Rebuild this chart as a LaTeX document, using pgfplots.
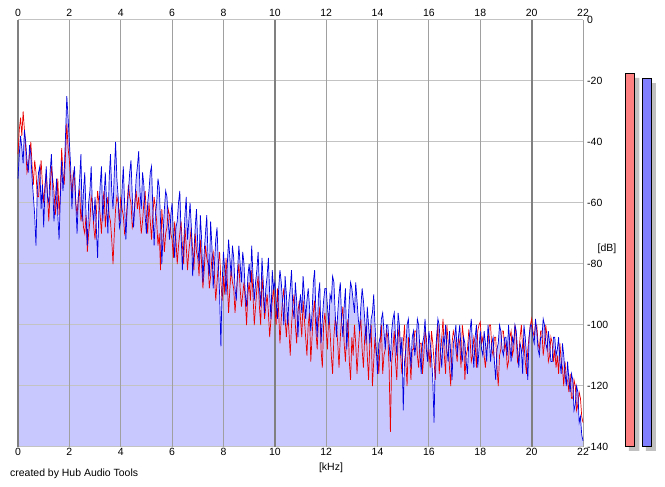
\documentclass[border=0pt]{standalone}
\usepackage{pgfplots}
\pgfplotsset{compat=1.18}
\usepackage{pgfplotstable}
\usepackage{fontspec}
\setmainfont{Liberation Sans}
\definecolor{lav}{RGB}{200,200,255}
\definecolor{vgrid}{RGB}{160,160,160}
\definecolor{tgrid}{RGB}{128,128,128}
\definecolor{hgrid}{RGB}{195,195,195}
\definecolor{lblue}{RGB}{0,0,225}
\definecolor{lred}{RGB}{235,0,0}
\definecolor{mred}{RGB}{255,128,128}
\definecolor{mblue}{RGB}{128,128,255}
\definecolor{shad}{RGB}{192,192,192}

% blue channel, one value every 0.05 kHz from 0 to 22 kHz
\pgfplotstableread[row sep=\\]{y\\
-52\\-44\\-38\\-42\\-47\\-36\\-40\\-46\\-50\\-41\\
-44\\-52\\-58\\-64\\-74\\-56\\-50\\-48\\-62\\-54\\
-68\\-56\\-48\\-58\\-60\\-50\\-44\\-54\\-66\\-60\\
-52\\-64\\-72\\-58\\-46\\-56\\-50\\-38\\-25\\-32\\
-40\\-48\\-62\\-52\\-48\\-60\\-70\\-58\\-52\\-44\\
-66\\-56\\-50\\-64\\-74\\-60\\-56\\-48\\-62\\-66\\
-58\\-68\\-78\\-62\\-54\\-48\\-66\\-58\\-50\\-60\\
-70\\-52\\-44\\-56\\-62\\-50\\-40\\-52\\-58\\-68\\
-66\\-56\\-48\\-60\\-72\\-62\\-56\\-50\\-46\\-58\\
-68\\-60\\-52\\-48\\-43\\-56\\-62\\-50\\-54\\-64\\
-70\\-60\\-56\\-50\\-48\\-62\\-74\\-64\\-60\\-52\\
-55\\-66\\-80\\-70\\-62\\-56\\-58\\-66\\-72\\-64\\
-60\\-70\\-78\\-68\\-66\\-60\\-56\\-70\\-82\\-74\\
-64\\-58\\-72\\-66\\-60\\-68\\-84\\-76\\-68\\-62\\
-74\\-80\\-64\\-72\\-86\\-76\\-70\\-64\\-78\\-84\\
-66\\-74\\-88\\-80\\-72\\-68\\-80\\-90\\-107\\-86\\
-76\\-82\\-90\\-80\\-72\\-78\\-84\\-74\\-78\\-88\\
-92\\-82\\-74\\-80\\-86\\-76\\-80\\-90\\-94\\-84\\
-80\\-86\\-74\\-84\\-92\\-86\\-82\\-76\\-88\\-94\\
-78\\-86\\-96\\-88\\-84\\-78\\-90\\-98\\-82\\-88\\
-86\\-92\\-98\\-88\\-82\\-86\\-92\\-100\\-84\\-90\\
-100\\-92\\-88\\-82\\-94\\-98\\-86\\-92\\-104\\-94\\
-90\\-96\\-84\\-90\\-98\\-92\\-88\\-94\\-102\\-96\\
-86\\-82\\-96\\-104\\-90\\-86\\-106\\-98\\-92\\-88\\
-88\\-94\\-100\\-90\\-92\\-84\\-86\\-96\\-104\\-96\\
-90\\-86\\-98\\-104\\-94\\-88\\-108\\-100\\-92\\-86\\
-88\\-92\\-96\\-86\\-92\\-98\\-102\\-94\\-88\\-92\\
-98\\-106\\-94\\-100\\-106\\-98\\-96\\-90\\-100\\-108\\
-116\\-106\\-104\\-98\\-96\\-102\\-108\\-100\\-100\\-106\\
-112\\-102\\-98\\-96\\-104\\-110\\-96\\-100\\-110\\-104\\
-128\\-112\\-108\\-100\\-98\\-106\\-114\\-104\\-102\\-110\\
-106\\-98\\-100\\-108\\-116\\-106\\-104\\-98\\-108\\-112\\
-102\\-106\\-110\\-118\\-132\\-110\\-104\\-98\\-100\\-108\\
-114\\-104\\-106\\-100\\-108\\-112\\-102\\-110\\-118\\-106\\
-104\\-100\\-110\\-104\\-100\\-108\\-112\\-104\\-106\\-112\\
-116\\-106\\-102\\-98\\-108\\-114\\-104\\-100\\-114\\-108\\
-102\\-108\\-110\\-102\\-106\\-112\\-100\\-104\\-112\\-106\\
-104\\-112\\-118\\-108\\-106\\-100\\-102\\-108\\-110\\-104\\
-104\\-110\\-100\\-106\\-112\\-104\\-106\\-100\\-102\\-108\\
-114\\-106\\-108\\-116\\-100\\-104\\-110\\-118\\-104\\-100\\
-100\\-104\\-106\\-98\\-102\\-108\\-110\\-104\\-104\\-98\\
-100\\-106\\-108\\-102\\-106\\-112\\-112\\-104\\-104\\-110\\
-108\\-104\\-112\\-116\\-106\\-110\\-116\\-120\\-112\\-118\\
-122\\-116\\-118\\-128\\-126\\-120\\-122\\-132\\-130\\-136\\
-138\\
}\bluedata

% red channel, one value every 0.05 kHz from 0 to 22 kHz
\pgfplotstableread[row sep=\\]{y\\
-44\\-36\\-32\\-38\\-30\\-36\\-42\\-50\\-48\\-44\\
-40\\-48\\-54\\-46\\-50\\-58\\-58\\-52\\-46\\-54\\
-60\\-54\\-50\\-58\\-66\\-56\\-48\\-52\\-56\\-64\\
-60\\-52\\-64\\-56\\-42\\-50\\-54\\-44\\-34\\-42\\
-46\\-52\\-58\\-50\\-52\\-60\\-64\\-58\\-56\\-66\\
-62\\-68\\-70\\-64\\-76\\-70\\-66\\-58\\-60\\-68\\
-72\\-64\\-56\\-60\\-64\\-70\\-60\\-56\\-68\\-62\\
-58\\-64\\-66\\-72\\-80\\-70\\-62\\-58\\-60\\-66\\
-58\\-62\\-64\\-70\\-68\\-60\\-54\\-58\\-60\\-68\\
-66\\-60\\-56\\-62\\-58\\-64\\-70\\-66\\-60\\-56\\
-64\\-70\\-60\\-66\\-72\\-64\\-58\\-62\\-66\\-74\\
-70\\-82\\-62\\-68\\-76\\-70\\-68\\-62\\-64\\-70\\
-72\\-78\\-66\\-72\\-80\\-74\\-70\\-66\\-74\\-80\\
-68\\-74\\-82\\-76\\-72\\-68\\-76\\-82\\-70\\-76\\
-78\\-84\\-72\\-80\\-88\\-82\\-74\\-78\\-80\\-88\\
-84\\-78\\-76\\-84\\-92\\-86\\-80\\-76\\-86\\-92\\
-84\\-90\\-78\\-86\\-96\\-88\\-82\\-86\\-88\\-96\\
-90\\-84\\-80\\-88\\-94\\-90\\-86\\-92\\-100\\-90\\
-86\\-92\\-82\\-90\\-100\\-94\\-88\\-84\\-94\\-100\\
-84\\-90\\-98\\-94\\-90\\-96\\-104\\-98\\-92\\-88\\
-94\\-100\\-88\\-96\\-106\\-98\\-92\\-88\\-98\\-104\\
-96\\-102\\-110\\-100\\-94\\-90\\-100\\-106\\-96\\-92\\
-98\\-104\\-92\\-98\\-104\\-110\\-100\\-96\\-112\\-104\\
-96\\-92\\-102\\-108\\-98\\-94\\-108\\-114\\-100\\-96\\
-102\\-108\\-96\\-102\\-110\\-116\\-104\\-98\\-100\\-106\\
-114\\-104\\-98\\-94\\-106\\-112\\-102\\-98\\-112\\-118\\
-104\\-110\\-100\\-106\\-116\\-108\\-102\\-98\\-108\\-114\\
-104\\-100\\-110\\-118\\-106\\-100\\-120\\-112\\-104\\-110\\
-110\\-116\\-106\\-100\\-116\\-110\\-108\\-102\\-104\\-114\\
-135\\-112\\-108\\-102\\-112\\-118\\-104\\-100\\-110\\-116\\
-106\\-100\\-112\\-120\\-104\\-110\\-118\\-108\\-108\\-102\\
-102\\-110\\-114\\-106\\-106\\-116\\-110\\-102\\-104\\-112\\
-108\\-114\\-102\\-106\\-112\\-118\\-106\\-100\\-116\\-110\\
-104\\-98\\-110\\-116\\-100\\-106\\-114\\-120\\-106\\-102\\
-104\\-108\\-112\\-104\\-106\\-114\\-100\\-104\\-118\\-110\\
-108\\-102\\-104\\-112\\-110\\-104\\-106\\-114\\-102\\-100\\
-99\\-106\\-104\\-110\\-114\\-108\\-106\\-100\\-100\\-108\\
-110\\-104\\-104\\-114\\-120\\-110\\-108\\-102\\-102\\-108\\
-106\\-114\\-112\\-104\\-102\\-110\\-108\\-100\\-104\\-112\\
-110\\-104\\-100\\-108\\-106\\-112\\-116\\-108\\-104\\-100\\
-98\\-102\\-104\\-100\\-100\\-106\\-108\\-102\\-102\\-110\\
-106\\-100\\-104\\-112\\-110\\-104\\-106\\-112\\-108\\-114\\
-110\\-116\\-106\\-112\\-114\\-120\\-112\\-118\\-118\\-122\\
-116\\-124\\-124\\-118\\-120\\-128\\-126\\-122\\-124\\-130\\
-132\\
}\reddata

\begin{document}
\begin{tikzpicture}[x=1bp,y=1bp]
\useasboundingbox (0,0) rectangle (665,487);
\begin{axis}[
  at={(18bp,40bp)}, anchor=south west,
  scale only axis, width=565bp, height=427bp,
  xmin=0, xmax=22, ymin=0, ymax=140,
  clip=false,
  axis line style={draw=none},
  xtick={0,2,...,22}, ytick={0,20,...,140},
  yticklabels={-140,-120,-100,-80,-60,-40,-20,\raisebox{-2bp}{0}},
  yticklabel pos=right, xticklabel pos=lower,
  major tick length=0pt,
  ticklabel style={font=\fontsize{10.5}{12}\selectfont},
  xticklabel style={inner sep=1.5bp},
  yticklabel style={inner sep=0pt, xshift=4bp},
  /pgf/number format/assume math mode=true,
]
% area under the blue spectrum
\addplot[fill=lav, draw=none] table[x index=0, y index=0, x expr=\coordindex*0.05, y expr=\thisrowno{0}+140] {\bluedata} \closedcycle;
% grid drawn over the area
\pgfplotsinvokeforeach{0,20,40,60,80,100,120,140}{
  \addplot[draw=hgrid, line width=1bp] coordinates {(0,#1) (22,#1)};
}
\pgfplotsinvokeforeach{2,4,6,8,12,14,16,18,22}{
  \addplot[draw=vgrid, line width=1bp] coordinates {(#1,0) (#1,140)};
}
\pgfplotsinvokeforeach{0,10,20}{
  \addplot[draw=tgrid, line width=2bp] coordinates {(#1,0) (#1,140)};
}
\addplot[draw=lred, line width=0.7bp] table[x index=0, y index=0, x expr=\coordindex*0.05, y expr=\thisrowno{0}+140] {\reddata};
\addplot[draw=lblue, line width=0.7bp] table[x index=0, y index=0, x expr=\coordindex*0.05, y expr=\thisrowno{0}+140] {\bluedata};
% level meters
\addplot[fill=shad, draw=none] coordinates {(23.79,-1.3) (23.79,121.0) (24.19,121.0) (24.19,-1.3) (23.79,-1.3)};
\addplot[fill=mred, draw=black, line width=1bp] coordinates {(23.64,0) (23.64,122.3) (23.99,122.3) (23.99,0) (23.64,0)};
\addplot[fill=shad, draw=none] coordinates {(24.45,-1.3) (24.45,119.3) (24.84,119.3) (24.84,-1.3) (24.45,-1.3)};
\addplot[fill=mblue, draw=black, line width=1bp] coordinates {(24.30,0) (24.30,120.7) (24.65,120.7) (24.65,0) (24.30,0)};
\end{axis}
\begin{axis}[
  at={(18bp,40bp)}, anchor=south west,
  scale only axis, width=565bp, height=427bp,
  xmin=0, xmax=22, ymin=0, ymax=140,
  axis line style={draw=none},
  xtick={0,2,...,22}, ytick=\empty,
  xticklabel pos=upper,
  major tick length=0pt,
  ticklabel style={font=\fontsize{10.5}{12}\selectfont},
  xticklabel style={inner sep=0pt, yshift=3bp},
  /pgf/number format/assume math mode=true,
]
\addplot[draw=none] coordinates {(0,0) (22,140)};
\end{axis}
\node[font=\fontsize{10.5}{12}\selectfont] at (607,238) {[dB]};
\node[font=\fontsize{10.5}{12}\selectfont] at (331,19) {[kHz]};
\node[font=\fontsize{10.5}{12}\selectfont, anchor=west, inner sep=0pt] at (10,13) {created by Hub Audio Tools};
\end{tikzpicture}
\end{document}
